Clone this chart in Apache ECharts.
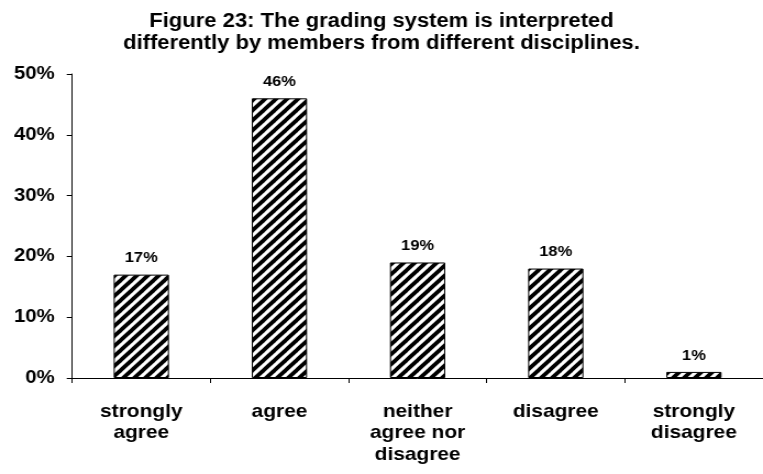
<!DOCTYPE html>
<html>
<head>
<meta charset="utf-8">
<script src="https://cdn.jsdelivr.net/npm/echarts@6/dist/echarts.min.js"></script>
<style>
html,body{margin:0;padding:0;background:#fff;overflow:hidden;width:763px;height:474px;}
#chart{width:694px;height:474px;transform:scaleX(1.0994);transform-origin:0 0;}
</style>
</head>
<body>
<div id="chart"></div>
<script>
const titleLines = ['Figure 23: The grading system is interpreted', 'differently by members from different disciplines.'];
const categories = ['strongly\nagree', 'agree', 'neither\nagree nor\ndisagree', 'disagree', 'strongly\ndisagree'];
const values = [17, 46, 19, 18, 1];
const yTicks = {min: 0, max: 50, interval: 10};

// hatch tile
const tile = document.createElement('canvas');
tile.width = 10; tile.height = 10;
const c = tile.getContext('2d');
c.fillStyle = '#fff'; c.fillRect(0, 0, 10, 10);
c.strokeStyle = '#000'; c.lineWidth = 3.8; c.lineCap = 'square';
[[-10, 0], [0, 0], [10, 0]].forEach(function (o) {
  c.beginPath(); c.moveTo(o[0], 10); c.lineTo(o[0] + 10, 0); c.stroke();
});

const FONT = 'Liberation Sans, Arial, sans-serif';
const chart = echarts.init(document.getElementById('chart'), null, {renderer: 'canvas'});
chart.setOption({
  animation: false,
  backgroundColor: '#fff',
  title: {
    text: titleLines.join('\n'),
    left: 'center', top: 6,
    textStyle: {fontFamily: FONT, fontWeight: 'bold', fontSize: 20, lineHeight: 21.5, color: '#000'}
  },
  grid: {left: 65.7, right: -5.3, top: 74, bottom: 96, containLabel: false},
  xAxis: {
    type: 'category', data: categories,
    axisLine: {lineStyle: {color: '#000', width: 1}},
    axisTick: {show: true, length: 5, lineStyle: {color: '#000'}},
    axisLabel: {color: '#000', fontFamily: FONT, fontWeight: 'bold', fontSize: 19, lineHeight: 21.5, margin: 23, interval: 0}
  },
  yAxis: {
    type: 'value', min: yTicks.min, max: yTicks.max, interval: yTicks.interval,
    splitLine: {show: false},
    axisLine: {show: true, lineStyle: {color: '#000', width: 1}},
    axisTick: {show: true, length: 5, lineStyle: {color: '#000'}},
    axisLabel: {formatter: '{value}%', color: '#000', fontFamily: FONT, fontWeight: 'bold', fontSize: 18.5, margin: 16}
  },
  series: [{
    type: 'bar', data: values, barWidth: '40%',
    itemStyle: {color: {image: tile, repeat: 'repeat'}, borderColor: '#000', borderWidth: 1},
    label: {show: true, position: 'top', distance: 9, formatter: '{c}%', color: '#000', fontFamily: FONT, fontWeight: 'bold', fontSize: 15}
  }]
});
</script>
</body>
</html>
